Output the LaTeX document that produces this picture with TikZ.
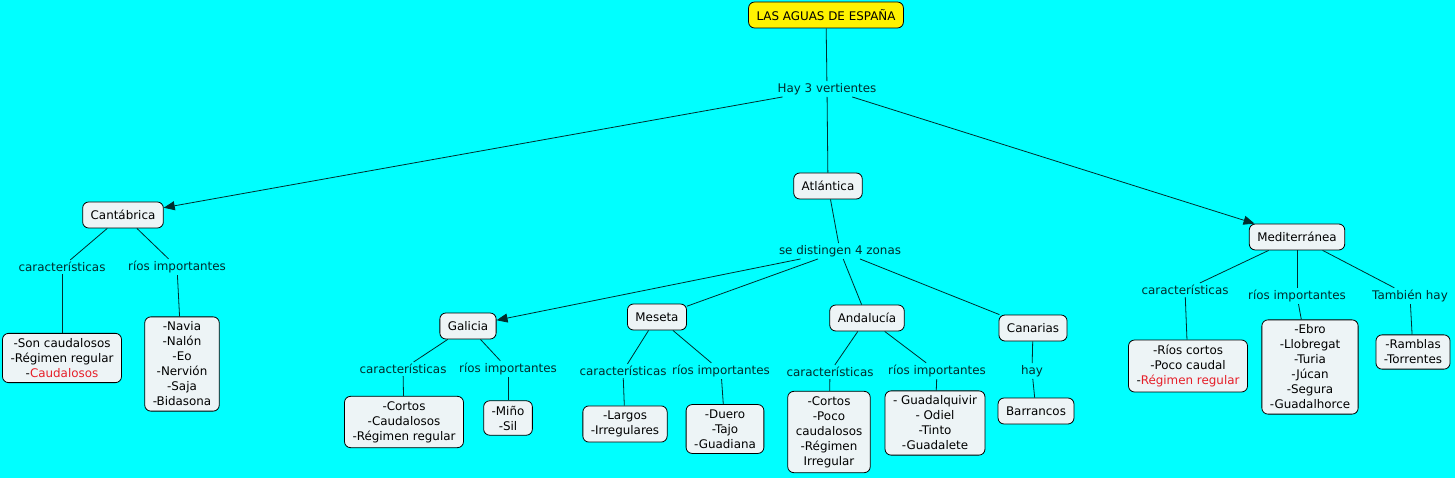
\documentclass[tikz,border=0pt]{standalone}
\usepackage{fontspec}
\setmainfont{DejaVu Sans}
\usetikzlibrary{arrows.meta}
\definecolor{bg}{RGB}{0,255,255}
\definecolor{cfill}{RGB}{237,244,246}
\definecolor{lcol}{RGB}{0,45,45}
\definecolor{rtxt}{RGB}{230,30,40}
\tikzset{
  concept/.style={draw=black, line width=0.8pt, fill=cfill, rounded corners=6pt, align=center,
    inner xsep=8pt, inner ysep=5pt, minimum height=26pt, font=\fontsize{11.9}{15}\selectfont, text=black},
  titlebox/.style={concept, fill=yellow},
  linkph/.style={inner xsep=1pt, inner ysep=2pt, font=\fontsize{11.9}{15}\selectfont, text=lcol},
  conn/.style={draw=lcol, line width=0.8pt},
  arr/.style={conn, -{Triangle[length=11pt,width=9pt]}},
}
\begin{document}
\begin{tikzpicture}[x=1pt,y=-1pt]
\fill[bg] (0,0) rectangle (1455,478);
\useasboundingbox (0,0) rectangle (1455,478);

\node[titlebox] (title) at (826,15) {LAS AGUAS DE ESPAÑA};
\node[linkph] (hay3) at (827,89) {Hay 3 vertientes};
\node[concept] (cant) at (123,215) {Cantábrica};
\node[concept] (atl) at (828,186) {Atlántica};
\node[concept] (med) at (1297,237) {Mediterránea};
\node[linkph] (zonas) at (840,251) {se distingen 4 zonas};

% Cantábrica
\node[linkph] (cantc) at (62,267) {características};
\node[linkph] (cantr) at (177,267) {ríos importantes};
\node[concept] (cantcb) at (62,358) {-Son caudalosos\\-Régimen regular\\-\textcolor{rtxt}{Caudalosos}};
\node[concept] (cantrb) at (182,364) {-Navia\\-Nalón\\-Eo\\-Nervión\\-Saja\\-Bidasona};

% zonas
\node[concept] (gal) at (468,326) {Galicia};
\node[concept] (mes) at (657,317) {Meseta};
\node[concept] (and) at (867,318) {Andalucía};
\node[concept] (can) at (1033,328) {Canarias};

\node[linkph] (galc) at (403,369) {características};
\node[linkph] (galr) at (508,369) {ríos importantes};
\node[concept] (galcb) at (404,422) {-Cortos\\-Caudalosos\\-Régimen regular};
\node[concept] (galrb) at (508,418) {-Miño\\-Sil};

\node[linkph] (mesc) at (623,371) {características};
\node[linkph] (mesr) at (721,371) {ríos importantes};
\node[concept] (mescb) at (625,424) {-Largos\\-Irregulares};
\node[concept] (mesrb) at (725,429) {-Duero\\-Tajo\\-Guadiana};

\node[linkph] (andc) at (830,372) {características};
\node[linkph] (andr) at (937,371) {ríos importantes};
\node[concept] (andcb) at (829,432) {-Cortos\\-Poco\\caudalosos\\-Régimen\\Irregular};
\node[concept] (andrb) at (935,423) {- Guadalquivir\\- Odiel\\-Tinto\\-Guadalete};

\node[linkph] (hay) at (1032,371) {hay};
\node[concept] (barr) at (1036,411) {Barrancos};

% Mediterránea
\node[linkph] (medc) at (1185,290) {características};
\node[linkph] (medr) at (1297,296) {ríos importantes};
\node[linkph] (medt) at (1410,296) {También hay};
\node[concept] (medcb) at (1188,366) {-Ríos cortos\\-Poco caudal\\-\textcolor{rtxt}{Régimen regular}};
\node[concept] (medrb) at (1310,367) {-Ebro\\-Llobregat\\-Turia\\-Júcan\\-Segura\\-Guadalhorce};
\node[concept] (medtb) at (1413,352) {-Ramblas\\-Torrentes};

% connectors
\draw[conn] (title) -- (hay3);
\draw[arr] (hay3) -- (cant);
\draw[conn] (hay3) -- (atl);
\draw[arr] (hay3) -- (med);

\draw[conn] (cant) -- (cantc);
\draw[conn] (cant) -- (cantr);
\draw[conn] (cantc) -- (cantcb);
\draw[conn] (cantr) -- (cantrb);

\draw[conn] (atl) -- (zonas);
\draw[arr] (zonas) -- (gal);
\draw[conn] (zonas) -- (mes);
\draw[conn] (zonas) -- (and);
\draw[conn] (zonas) -- (can);

\draw[conn] (gal) -- (galc);
\draw[conn] (gal) -- (galr);
\draw[conn] (galc) -- (galcb);
\draw[conn] (galr) -- (galrb);

\draw[conn] (mes) -- (mesc);
\draw[conn] (mes) -- (mesr);
\draw[conn] (mesc) -- (mescb);
\draw[conn] (mesr) -- (mesrb);

\draw[conn] (and) -- (andc);
\draw[conn] (and) -- (andr);
\draw[conn] (andc) -- (andcb);
\draw[conn] (andr) -- (andrb);

\draw[conn] (can) -- (hay);
\draw[conn] (hay) -- (barr);

\draw[conn] (med) -- (medc);
\draw[conn] (med) -- (medr);
\draw[conn] (med) -- (medt);
\draw[conn] (medc) -- (medcb);
\draw[conn] (medr) -- (medrb);
\draw[conn] (medt) -- (medtb);
\end{tikzpicture}
\end{document}
